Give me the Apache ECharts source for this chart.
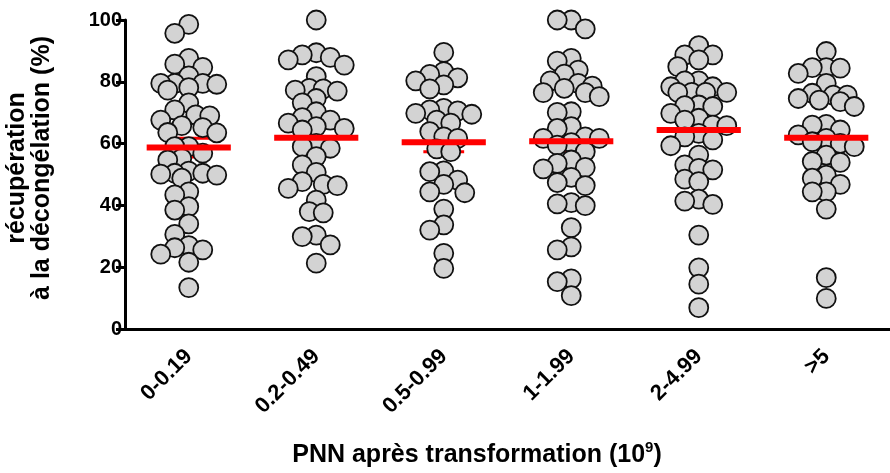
<!DOCTYPE html>
<html><head><meta charset="utf-8">
<script src="https://cdn.jsdelivr.net/npm/echarts@6/dist/echarts.min.js"></script>
<style>html,body{margin:0;padding:0;background:#fff}#c{width:890px;height:473px}</style>
</head><body><div id="c"></div>
<script>
const categories = ['0-0.19', '0.2-0.49', '0.5-0.99', '1-1.99', '2-4.99', '>5'];
const col1 = [95.7, 98.6, 87.6, 85.7, 84.7, 81.9, 79.2, 79.5, 79.5, 79.5, 78.1, 77.3, 73.2, 70.9, 69.0, 69.3, 67.6, 65.8, 65.2, 63.5, 63.6, 56.9, 59.0, 59.0, 54.7, 55.2, 50.1, 50.4, 51.1, 50.4, 49.8, 48.8, 44.4, 43.4, 39.6, 38.5, 34.0, 30.6, 25.6, 27.0, 24.2, 26.3, 21.6, 13.4];
const col2 = [100, 88.7, 85.4, 87.1, 89.4, 87.9, 81.7, 77.3, 77.9, 74.6, 77.0, 77.7, 73.2, 70.3, 68.4, 67.6, 66.6, 64.4, 65.5, 64.9, 59.0, 58.5, 60.1, 55.8, 53.1, 50.7, 45.5, 46.8, 46.4, 47.7, 41.7, 38.0, 37.6, 29.9, 30.4, 27.2, 21.3];
const col3 = [89.5, 81.3, 83.3, 82.4, 79.0, 77.7, 69.5, 70.6, 71.4, 70.9, 66.6, 63.9, 62.2, 58.3, 57.4, 50.9, 51.2, 48.2, 46.8, 44.1, 33.7, 32.0, 19.6, 80.3, 67.6, 61.7, 44.4, 38.8, 24.5, 69.8];
const col4 = [100, 97.1, 100, 86.7, 87.6, 83.8, 82.5, 79.5, 78.6, 77.9, 80.3, 76.5, 76.5, 75.2, 70.3, 70.1, 65.5, 64.9, 61.7, 62.2, 61.7, 60.3, 59.5, 57.4, 53.6, 54.7, 51.8, 52.3, 49.1, 47.4, 46.4, 40.9, 39.9, 40.5, 32.8, 26.6, 25.6, 16.2, 15.3, 10.8];
const col5 = [91.7, 87.1, 88.7, 88.7, 84.9, 80.3, 78.4, 76.6, 80.3, 78.4, 76.6, 76.6, 76.6, 72.0, 72.5, 72.3, 69.8, 68.2, 67.6, 66.0, 65.8, 62.2, 63.3, 59.3, 61.2, 56.3, 53.1, 51.5, 52.0, 47.7, 48.5, 41.4, 40.3, 42.0, 30.4, 19.8, 14.5, 6.9];
const col6 = [89.8, 84.4, 84.6, 82.7, 84.6, 79.5, 74.1, 75.7, 76.3, 75.7, 74.6, 73.6, 72.0, 66.2, 66.0, 64.4, 61.7, 60.1, 62.8, 60.6, 59.0, 56.3, 54.2, 53.9, 46.8, 48.8, 49.8, 44.4, 44.4, 38.8, 16.6, 9.9];
const means = [58.7, 61.9, 60.4, 60.8, 64.4, 61.9];
const sems = [3.0, 3.2, 3.0, 3.3, 2.8, 3.0];
const groups = [col1, col2, col3, col4, col5, col6];

const FONT = '"Liberation Sans", Arial, sans-serif';
const chart = echarts.init(document.getElementById('c'), null, {renderer: 'canvas'});

const base = {
  animation: false,
  grid: {left: 125, right: -15, top: 20, bottom: 144},
  xAxis: [
    {type: 'category', data: categories, boundaryGap: true,
     axisLine: {lineStyle: {color: '#000', width: 3}},
     axisTick: {alignWithLabel: true, length: 9, lineStyle: {color: '#000', width: 3}},
     axisLabel: {rotate: 45, fontSize: 22, fontWeight: 'bold', color: '#000', fontFamily: FONT, margin: 24},
     splitLine: {show: false}},
    {type: 'value', min: -0.5, max: 5.5, show: false}
  ],
  yAxis: {type: 'value', min: 0, max: 100, interval: 20,
    axisLine: {show: true, onZero: false, lineStyle: {color: '#000', width: 3}},
    axisTick: {show: true, length: 9, lineStyle: {color: '#000', width: 3}},
    axisLabel: {fontSize: 20, fontWeight: 'bold', color: '#000', fontFamily: FONT, margin: 3},
    splitLine: {show: false}},
  graphic: [
    {type: 'text', x: 30, y: 168, rotation: Math.PI / 2,
     style: {text: 'récupération\nà la décongélation (%)', fontSize: 25, fontWeight: 'bold', fontFamily: FONT,
             fill: '#000', align: 'center', verticalAlign: 'middle', lineHeight: 25}},
    {type: 'text', x: 477, y: 455,
     style: {text: 'PNN après transformation (10{s|9})', fontSize: 25, fontWeight: 'bold', fontFamily: FONT,
             fill: '#000', align: 'center', verticalAlign: 'middle', lineHeight: 30,
             rich: {s: {fontSize: 15, fontWeight: 'bold', fontFamily: FONT, fill: '#000', verticalAlign: 'top', lineHeight: 30}}}}
  ],
  series: []
};
chart.setOption(base);

// lane-based dot layout (Prism-like), computed in pixel space through the axes
const D = 13, STEP = 7, MAXK = 4;
const scatterData = [];
groups.forEach((vals, gi) => {
  const cx = chart.convertToPixel({xAxisIndex: 1}, gi);
  const sorted = vals.slice().sort((a, b) => b - a);
  const placed = [];
  sorted.forEach(v => {
    const py = chart.convertToPixel({yAxisIndex: 0}, v);
    let best = null, bestCost = Infinity;
    for (let k = -MAXK; k <= MAXK; k++) {
      const px = cx + k * STEP;
      let minD = Infinity;
      for (const p of placed) {
        const ddx = p[0] - px, ddy = p[1] - py;
        minD = Math.min(minD, Math.sqrt(ddx * ddx + ddy * ddy));
      }
      const ok = minD >= D;
      const cost = (ok ? 0 : 1000 + (D - minD) * 10) + Math.abs(k) + (k > 0 ? 0.1 : 0);
      if (cost < bestCost) { bestCost = cost; best = px; }
    }
    placed.push([best, py]);
    scatterData.push([chart.convertFromPixel({xAxisIndex: 1}, best), v]);
  });
});

const statData = means.map((m, i) => [i, m, sems[i]]);

chart.setOption({
  series: [
    {type: 'custom', xAxisIndex: 1, z: 1, data: statData, silent: true,
     renderItem(params, api) {
       const i = api.value(0), m = api.value(1), s = api.value(2);
       const top = api.coord([i, m + s]), bot = api.coord([i, m - s]);
       const hw = api.size([0.16, 0])[0];
       const st = {stroke: '#ff0000', lineWidth: 3};
       return {type: 'group', children: [
         {type: 'line', shape: {x1: top[0], y1: top[1], x2: bot[0], y2: bot[1]}, style: st},
         {type: 'line', shape: {x1: top[0] - hw, y1: top[1], x2: top[0] + hw, y2: top[1]}, style: st},
         {type: 'line', shape: {x1: bot[0] - hw, y1: bot[1], x2: bot[0] + hw, y2: bot[1]}, style: st}
       ]};
     }},
    {type: 'scatter', xAxisIndex: 1, z: 2, data: scatterData, symbol: 'circle', symbolSize: 19,
     itemStyle: {color: '#d3d3d3', borderColor: '#111', borderWidth: 1.8, opacity: 1}, silent: true},
    {type: 'custom', xAxisIndex: 1, z: 3, data: statData, silent: true,
     renderItem(params, api) {
       const i = api.value(0), m = api.value(1);
       const c = api.coord([i, m]);
       const hw = api.size([0.33, 0])[0];
       return {type: 'line', shape: {x1: c[0] - hw, y1: c[1], x2: c[0] + hw, y2: c[1]},
               style: {stroke: '#ff0000', lineWidth: 6}};
     }}
  ]
});
</script></body></html>
